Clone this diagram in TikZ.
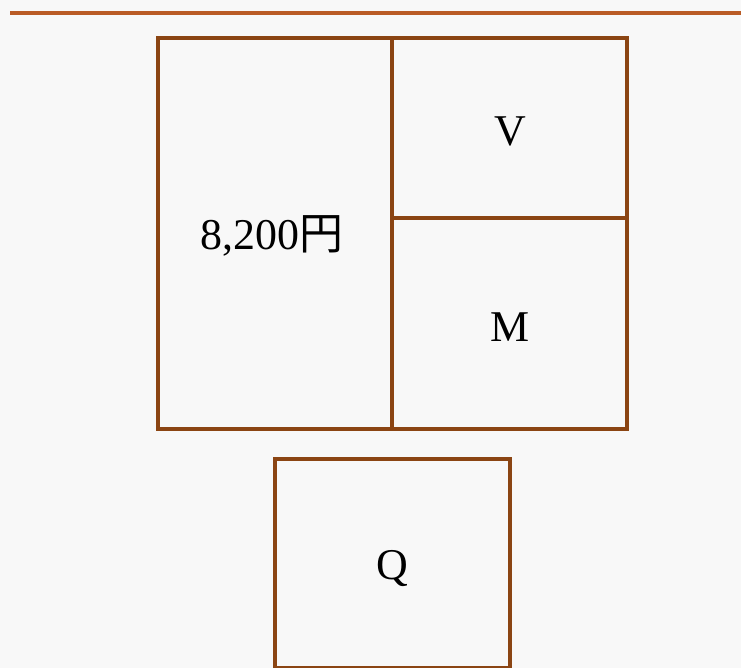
\documentclass[tikz,border=0pt]{standalone}
\usepackage{fontspec}
\setmainfont{Liberation Serif}
\newfontfamily\jpfont{Noto Sans CJK JP}
\usetikzlibrary{positioning}
\definecolor{paper}{RGB}{248, 248, 248}
\definecolor{boxbrown}{RGB}{139, 69, 19}
\definecolor{rulebrown}{RGB}{186, 92, 38}

\begin{document}
\begin{tikzpicture}[
  x=0.02cm, y=-0.02cm,
  cell/.style={rectangle, draw=boxbrown, line width=2pt,
    inner sep=0pt, font=\fontsize{25}{28}\selectfont},
  rulel/.style={line width=2pt, color=rulebrown}
]
  \fill[paper] (0,0) rectangle (741,668);
  \useasboundingbox (0,0) rectangle (741,668);
  % top rule
  \coordinate (rl) at (10,13);
  \coordinate (rr) at (741,13);
  \draw[rulel] (rl)--(rr);
  % upper block
  \node[cell, minimum width=234*0.02cm, minimum height=391*0.02cm]
    (price) at (275,233.5) {};
  \node[cell, minimum width=235*0.02cm, minimum height=180*0.02cm]
    (vcell) at (509.5,128) {};
  \node[cell, minimum width=235*0.02cm, minimum height=211*0.02cm]
    (mcell) at (509.5,323.5) {};
  % lower block
  \node[cell, minimum width=235*0.02cm, minimum height=209*0.02cm]
    (qcell) at (392.5,563.5) {};
  % labels
  \node[font=\fontsize{25}{28}\selectfont] (plabel) at (272,236) {8,200{\jpfont 円}};
  \node[font=\fontsize{25}{28}\selectfont] (vlabel) at (510,131) {V};
  \node[font=\fontsize{25}{28}\selectfont] (mlabel) at (510,327) {M};
  \node[font=\fontsize{25}{28}\selectfont] (qlabel) at (392,569) {Q};
\end{tikzpicture}
\end{document}
